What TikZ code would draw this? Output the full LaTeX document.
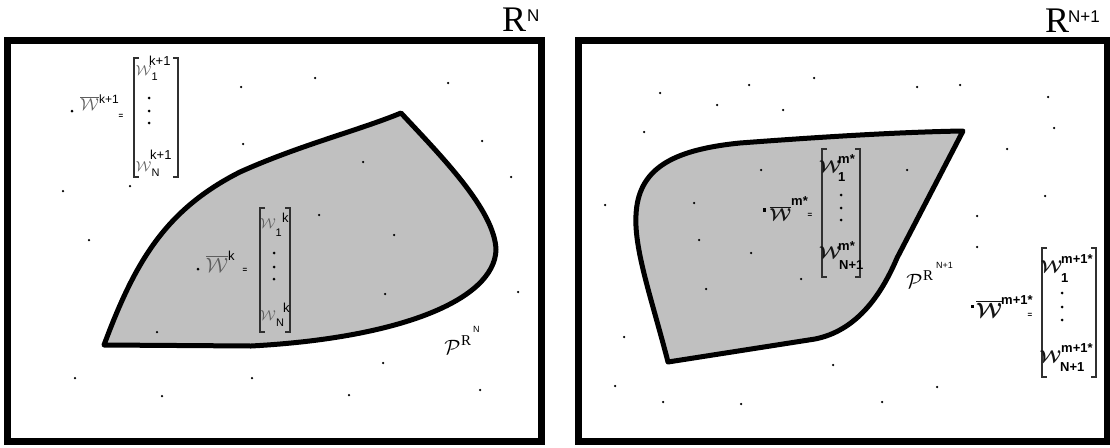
\documentclass[tikz,border=0pt]{standalone}
\usepackage{fontspec}
\setmainfont{Liberation Serif}
\newfontfamily\labsans{Liberation Sans}
\definecolor{regiongray}{HTML}{C0C0C0}
\definecolor{wlight}{HTML}{5E5E5E}
\definecolor{wdark}{HTML}{151515}
\definecolor{brkgray}{HTML}{303030}
\newcommand\brkpair[4]{%
  \draw[brk] (#1+5,#3) -- (#1,#3) -- (#1,#4) -- (#1+5,#4);
  \draw[brk] (#2-5,#3) -- (#2,#3) -- (#2,#4) -- (#2-5,#4);}
\begin{document}
\begin{tikzpicture}[x=1pt,y=-1pt,
  frame/.style={line width=6.5pt, draw=black},
  region/.style={line width=5pt, draw=black, fill=regiongray, line join=round},
  pt/.style={circle, fill=black, inner sep=0pt, minimum size=2.5pt},
  bigpt/.style={circle, fill=black, inner sep=0pt, minimum size=3pt},
  sqpt/.style={rectangle, fill=black, inner sep=0pt, minimum size=3.4pt},
  vdot/.style={circle, fill=black, inner sep=0pt, minimum size=3pt},
  brk/.style={line width=1.3pt, draw=brkgray},
  wl/.style={inner sep=0pt, anchor=base, text=wlight},
  wr/.style={inner sep=0pt, anchor=base, text=wdark},
  supl/.style={inner sep=0pt, anchor=base west, text=black, font={\labsans\fontsize{13}{13}\selectfont}},
  subl/.style={inner sep=0pt, anchor=base west, text=black, font={\labsans\fontsize{11}{11}\selectfont}},
  supr/.style={inner sep=0pt, anchor=base west, text=black, font={\labsans\bfseries\fontsize{13}{13}\selectfont}},
  eqs/.style={inner sep=0pt, text=black, font={\labsans\bfseries\fontsize{8}{8}\selectfont}},
  pcal/.style={inner sep=0pt, text=black, font={\fontsize{22}{22}\selectfont}},
  rser/.style={inner sep=0pt, anchor=base west, text=black, font={\fontsize{15}{15}\selectfont}},
  tiny/.style={inner sep=0pt, anchor=base west, text=black, font={\labsans\fontsize{9}{9}\selectfont}},
  titleR/.style={inner sep=0pt, anchor=base west, text=black, font={\fontsize{36}{36}\selectfont}},
  titleN/.style={inner sep=0pt, anchor=base west, text=black, font={\labsans\fontsize{17}{17}\selectfont}}
]
\useasboundingbox (0,0) rectangle (1110,447);
\fill[white] (0,0) rectangle (1110,447);

% frames
\draw[frame] (7.5,40.5) rectangle (541.5,441.5);
\draw[frame] (578.5,40.5) rectangle (1107,441.5);

% titles
\node[titleR] (t1R) at (502,31) {R};
\node[titleN] (t1N) at (527,21) {N};
\node[titleR] (t2R) at (1045,32) {R};
\node[titleN] (t2N) at (1068,22) {N+1};

% regions
\draw[region] (104,345) .. controls (135,262) and (165,210) .. (240,172)
  .. controls (300,145) and (360,130) .. (401,113)
  .. controls (440,155) and (495,210) .. (496,250)
  .. controls (494,300) and (400,338) .. (251,346)
  -- cycle;
\draw[region] (668,362) .. controls (652,300) and (634,250) .. (636,215)
  .. controls (638,170) and (670,150) .. (740,143)
  .. controls (820,137) and (900,132) .. (963,131)
  -- (897,258)
  .. controls (880,298) and (855,331) .. (815,339)
  -- cycle;

% scattered points
\foreach \x/\y [count=\i] in {315/78,241/87,448/83,243/144,482/141,363/162,511/177,63/191,130/186,319/215,89/240,394/235,385/294,518/292,157/332,383/363,75/378,252/378,162/396,349/395,480/390,
660/93,749/85,814/78,717/105,783/110,917/87,960/85,1048/97,644/132,1054/128,1007/149,761/170,907/170,605/205,694/203,1045/196,977/216,699/240,751/253,977/247,801/279,706/289,624/337,833/365,615/386,937/387,663/402,741/404,882/402}
  \node[pt] (p\i) at (\x,\y) {};

% ---------- left panel : W^{k+1}
\node[bigpt] (d1) at (72,111) {};
\node[wl, font={\fontsize{18}{18}\selectfont}] (l1w) at (89.5,110) {$\overline{\mathcal{W}}$};
\node[supl, font={\labsans\fontsize{12}{12}\selectfont}] (l1s) at (99,103) {k+1};
\node[eqs] (l1e) at (121,116) {=};
\brkpair{134}{178}{58}{177}
\node[wl, font={\fontsize{14}{14}\selectfont}] (a1w) at (143.5,75) {$\mathcal{W}$};
\node[supl] (a1s) at (149,65) {k+1};
\node[subl] (a1b) at (151.5,80) {1};
\node[vdot] (a1d1) at (149,98) {};
\node[vdot] (a1d2) at (149,111) {};
\node[vdot] (a1d3) at (149,123) {};
\node[wl, font={\fontsize{14}{14}\selectfont}] (a2w) at (143.5,171) {$\mathcal{W}$};
\node[supl] (a2s) at (150,159) {k+1};
\node[subl] (a2b) at (151.5,176) {N};

% ---------- left panel : W^{k}
\node[bigpt] (d2) at (198,269) {};
\node[wl, font={\fontsize{20}{20}\selectfont}] (l2w) at (217,272) {$\overline{\mathcal{W}}$};
\node[supl] (l2s) at (228,260) {k};
\node[eqs] (l2e) at (245,270) {=};
\brkpair{260}{290}{208}{332}
\node[wl, font={\fontsize{14}{14}\selectfont}] (b1w) at (268,228) {$\mathcal{W}$};
\node[supl] (b1s) at (282,222) {k};
\node[subl] (b1b) at (275.5,236) {1};
\node[vdot] (b1d1) at (274,253) {};
\node[vdot] (b1d2) at (274,267) {};
\node[vdot] (b1d3) at (274,279) {};
\node[wl, font={\fontsize{14}{14}\selectfont}] (b2w) at (268,320) {$\mathcal{W}$};
\node[supl] (b2s) at (283,312) {k};
\node[subl] (b2b) at (276,326) {N};

% P^{R^N}
\node[pcal] (p1P) at (452.5,347) {$\mathcal{P}$};
\node[rser] (p1R) at (461,345) {R};
\node[tiny] (p1N) at (473,332) {N};

% ---------- right panel : W^{m*}
\node[sqpt] (d3) at (764.5,210) {};
\node[wr, font={\boldmath\fontsize{19}{19}\selectfont}] (l3w) at (780.5,220) {$\overline{\mathcal{W}}$};
\node[supr] (l3s) at (791,205) {m*};
\node[eqs] (l3e) at (810,215) {=};
\brkpair{822}{860}{149}{277}
\node[wr, font={\boldmath\fontsize{16}{16}\selectfont}] (c1w) at (830,172) {$\mathcal{W}$};
\node[supr] (c1s) at (838,163) {m*};
\node[supr] (c1b) at (838,181) {1};
\node[vdot] (c1d1) at (841,195) {};
\node[vdot] (c1d2) at (841,208) {};
\node[vdot] (c1d3) at (841,220) {};
\node[wr, font={\boldmath\fontsize{16}{16}\selectfont}] (c2w) at (830,258) {$\mathcal{W}$};
\node[supr] (c2s) at (838,250) {m*};
\node[supr] (c2b) at (839,269) {N+1};

% P^{R^{N+1}}
\node[pcal] (p2P) at (914.5,281.5) {$\mathcal{P}$};
\node[rser] (p2R) at (923,280) {R};
\node[tiny] (p2N) at (936,268) {N+1};

% ---------- right panel : W^{m+1*}
\node[sqpt] (d4) at (972.5,306.5) {};
\node[wr, font={\boldmath\fontsize{21}{21}\selectfont}] (l4w) at (989,317) {$\overline{\mathcal{W}}$};
\node[supr] (l4s) at (1001,304) {m+1*};
\node[eqs] (l4e) at (1030,315) {=};
\brkpair{1042}{1096}{248}{377}
\node[wr, font={\boldmath\fontsize{17}{17}\selectfont}] (e1w) at (1051.5,272) {$\mathcal{W}$};
\node[supr] (e1s) at (1061,263) {m+1*};
\node[supr] (e1b) at (1061,282) {1};
\node[vdot] (e1d1) at (1062,293) {};
\node[vdot] (e1d2) at (1062,307) {};
\node[vdot] (e1d3) at (1062,320) {};
\node[wr, font={\boldmath\fontsize{17}{17}\selectfont}] (e2w) at (1050.5,362) {$\mathcal{W}$};
\node[supr] (e2s) at (1061,352) {m+1*};
\node[supr] (e2b) at (1060,371) {N+1};
\end{tikzpicture}
\end{document}
